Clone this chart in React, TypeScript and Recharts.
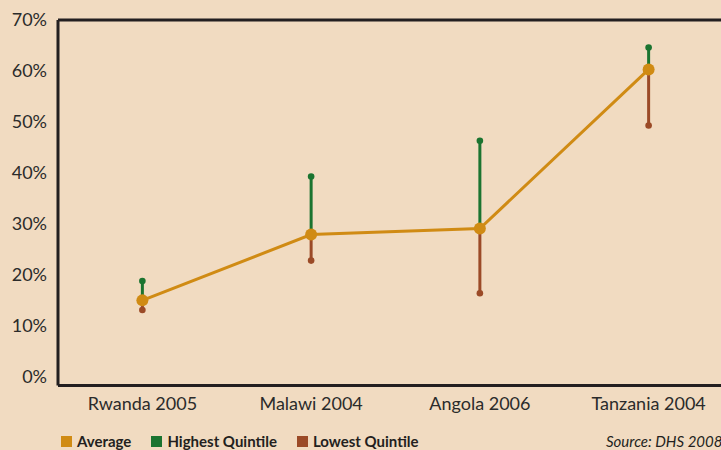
import { ComposedChart, Line, XAxis, YAxis, ErrorBar, ReferenceLine, Legend } from 'recharts';

const COUNTRIES = ['Rwanda 2005', 'Malawi 2004', 'Angola 2006', 'Tanzania 2004'];
const AVERAGE = [15.0, 27.9, 29.1, 60.3];
const HIGHEST = [18.8, 39.3, 46.3, 64.6];
const LOWEST = [13.1, 22.8, 16.4, 49.3];
const Y_TICKS = [0, 10, 20, 30, 40, 50, 60, 70];

const COLORS = {
  average: '#d08b14',
  highest: '#1b7430',
  lowest: '#9b4a27',
  axis: '#231f20',
  bg: '#f1dbc1',
};

const LEGEND_ITEMS = [
  { name: 'Average', color: COLORS.average },
  { name: 'Highest Quintile', color: COLORS.highest },
  { name: 'Lowest Quintile', color: COLORS.lowest },
];

const data = COUNTRIES.map((name, i) => ({
  name,
  avg: AVERAGE[i],
  high: HIGHEST[i],
  low: LOWEST[i],
  upErr: [0, HIGHEST[i] - AVERAGE[i]],
  downErr: [AVERAGE[i] - LOWEST[i], 0],
}));

const FONT = 'Lato, "Noto Sans", sans-serif';

function renderLegend() {
  return (
    <div style={{ position: 'relative', width: 721, height: 18, fontFamily: FONT }}>
      <div style={{ position: 'absolute', left: 61, top: 0, display: 'flex', alignItems: 'center' }}>
        {LEGEND_ITEMS.map((item) => (
          <div key={item.name} style={{ display: 'flex', alignItems: 'center', marginRight: 20 }}>
            <span style={{ display: 'inline-block', width: 11, height: 11, background: item.color, marginRight: 5 }} />
            <span style={{ fontSize: 15, lineHeight: '18px', fontWeight: 700, color: COLORS.axis }}>{item.name}</span>
          </div>
        ))}
      </div>
      <span
        style={{
          position: 'absolute',
          left: 606,
          top: 0,
          fontSize: 15,
          lineHeight: '18px',
          fontStyle: 'italic',
          color: COLORS.axis,
          whiteSpace: 'nowrap',
        }}
      >
        Source: DHS 2008
      </span>
    </div>
  );
}

function App() {
  return (
    <div
      style={{
        position: 'absolute',
        left: 0,
        top: 0,
        width: 721,
        height: 450,
        overflow: 'hidden',
        background: COLORS.bg,
      }}
    >
      <ComposedChart width={740} height={450} data={data} margin={{ top: 20, right: 7, left: 0, bottom: 0 }}>
        <XAxis
          dataKey="name"
          scale="band"
          height={64.5}
          tickLine={false}
          tickSize={0}
          tickMargin={12}
          axisLine={{ stroke: COLORS.axis, strokeWidth: 3 }}
          tick={{ fill: '#2b2b2b', fontSize: 18, fontFamily: FONT }}
        />
        <YAxis
          width={58}
          domain={[-1.7, 70]}
          ticks={Y_TICKS}
          tickFormatter={(v) => `${v}%`}
          tickLine={false}
          tickSize={0}
          tickMargin={11}
          axisLine={{ stroke: COLORS.axis, strokeWidth: 3 }}
          tick={{ fill: '#2b2b2b', fontSize: 18, fontFamily: FONT }}
        />
        <ReferenceLine y={70} stroke={COLORS.axis} strokeWidth={3} />
        <Line
          dataKey="avg"
          stroke={COLORS.average}
          strokeWidth={3}
          dot={{ r: 6, fill: COLORS.average, stroke: 'none' }}
          isAnimationActive={false}
        >
          <ErrorBar dataKey="upErr" direction="y" width={0} stroke={COLORS.highest} strokeWidth={3} isAnimationActive={false} />
          <ErrorBar dataKey="downErr" direction="y" width={0} stroke={COLORS.lowest} strokeWidth={3} isAnimationActive={false} />
        </Line>
        <Line
          dataKey="high"
          stroke="none"
          dot={{ r: 3.3, fill: COLORS.highest, stroke: 'none' }}
          isAnimationActive={false}
        />
        <Line
          dataKey="low"
          stroke="none"
          dot={{ r: 3.3, fill: COLORS.lowest, stroke: 'none' }}
          isAnimationActive={false}
        />
        <Legend
          layout="horizontal"
          verticalAlign="middle"
          align="center"
          content={renderLegend}
          wrapperStyle={{ top: 432, left: 0, width: 721 }}
        />
      </ComposedChart>
    </div>
  );
}

export default App;
